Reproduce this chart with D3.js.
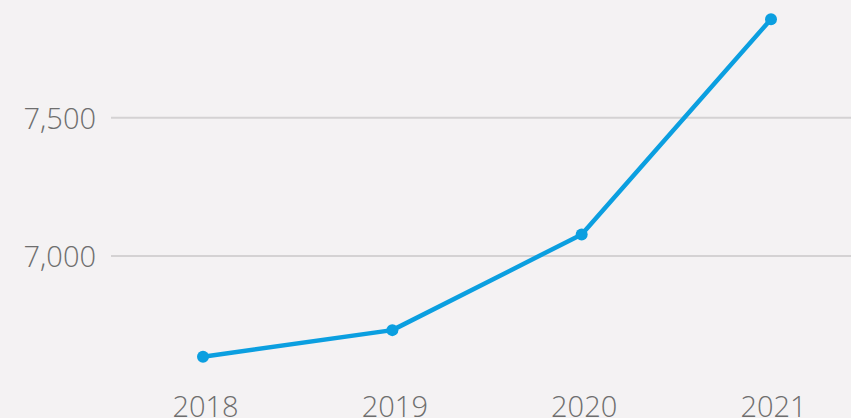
<!DOCTYPE html>
<html>
<head>
<meta charset="utf-8">
<script src="https://cdn.jsdelivr.net/npm/d3@7"></script>
<style>
  html, body { margin: 0; padding: 0; background: #f4f2f3; }
  svg { display: block; }
  .tick text { font-family: "Open Sans", sans-serif; font-size: 29px; font-weight: 300; fill: #6e6e6e; }
</style>
</head>
<body>
<div id="chart"></div>
<script>
const years = ["2018", "2019", "2020", "2021"];
const values = [6636, 6732, 7078, 7856];
const yTicks = [7000, 7500];

const width = 851, height = 418;

const svg = d3.select("#chart")
    .append("svg")
    .attr("width", width)
    .attr("height", height);

const x = d3.scalePoint()
    .domain(years)
    .range([203, 771]);

// escala lineal, se extrapola fuera del dominio
const y = d3.scaleLinear()
    .domain([7000, 7500])
    .range([256, 117.7]);

// lineas de la grilla
svg.append("g")
    .selectAll("line")
    .data(yTicks)
    .join("line")
    .attr("x1", 111)
    .attr("x2", width)
    .attr("y1", d => y(d))
    .attr("y2", d => y(d))
    .attr("stroke", "#d4d2d3")
    .attr("stroke-width", 2);

const yAxis = svg.append("g")
    .attr("transform", "translate(96,0)")
    .call(d3.axisLeft(y).tickValues(yTicks).tickFormat(d3.format(",")).tickSize(0).tickPadding(0));
yAxis.select(".domain").remove();
yAxis.selectAll("text").attr("dy", "0.36em");

const xAxis = svg.append("g")
    .attr("transform", "translate(2,0)")
    .call(d3.axisBottom(x).tickSize(0).tickPadding(0));
xAxis.select(".domain").remove();
xAxis.selectAll("text").attr("dy", null).attr("y", 417);

const line = d3.line()
    .x((d, i) => x(years[i]))
    .y(d => y(d));

svg.append("path")
    .datum(values)
    .attr("fill", "none")
    .attr("stroke", "#0b9fe0")
    .attr("stroke-width", 4.5)
    .attr("stroke-linejoin", "round")
    .attr("d", line);

svg.selectAll(".dot")
    .data(values)
    .join("circle")
    .attr("class", "dot")
    .attr("cx", (d, i) => x(years[i]))
    .attr("cy", d => y(d))
    .attr("r", 6)
    .attr("fill", "#0b9fe0");
</script>
</body>
</html>
